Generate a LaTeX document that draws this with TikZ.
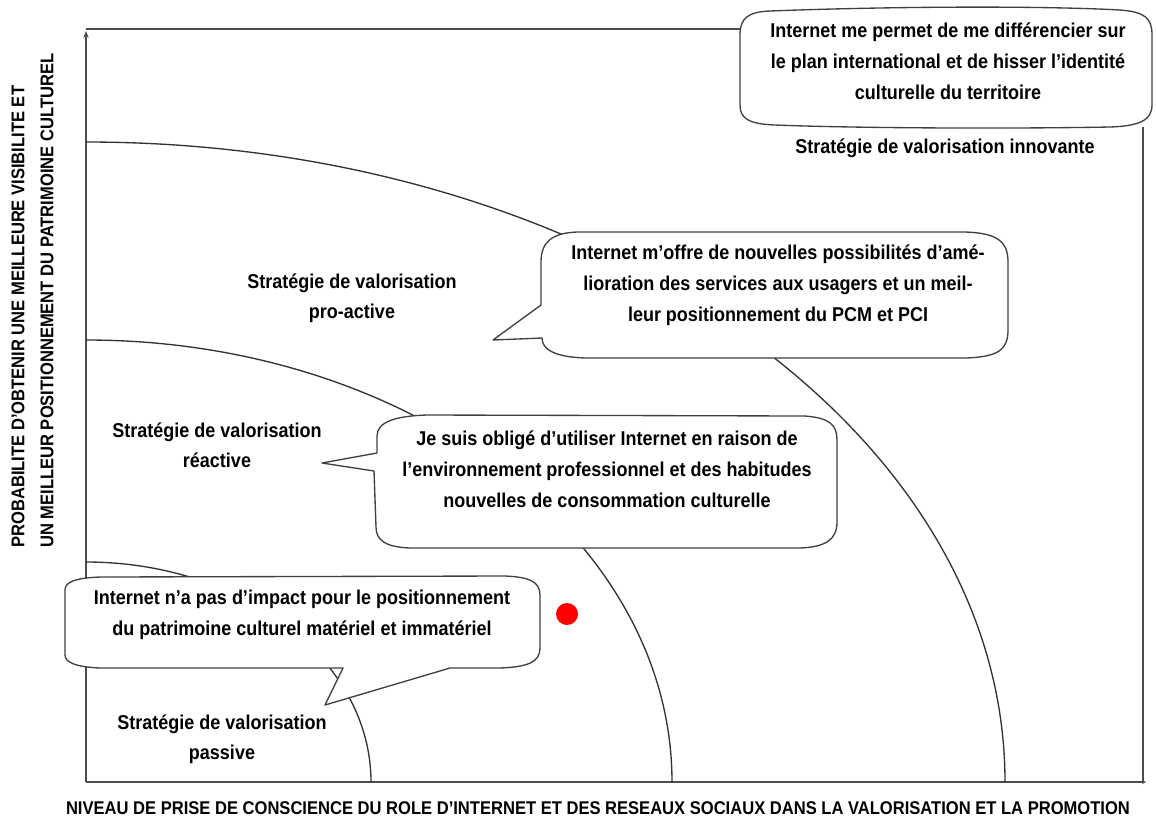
\documentclass[tikz,border=0pt]{standalone}
\usepackage{fontspec}
\setmainfont{Liberation Sans}[FakeStretch=0.9]
\usetikzlibrary{arrows.meta}

\begin{document}
\begin{tikzpicture}[x=0.75pt, y=-0.75pt,
  axis/.style={black!70, line width=1.5pt},
  zone/.style={black!80, line width=1pt},
  bubble/.style={draw=black!75, line width=1pt, fill=white, line join=round},
  lbl/.style={font=\bfseries\fontsize{15}{22.5}\selectfont, align=center, inner sep=0pt},
  say/.style={font=\bfseries\fontsize{15}{23.25}\selectfont, align=center, inner sep=0pt},
  axlbl/.style={font=\bfseries\fontsize{13.8}{21.75}\selectfont, align=left, inner sep=0pt}]
  \useasboundingbox (0,0) rectangle (1156,819);

  % Axes and frame
  \coordinate (O) at (86,782);
  \coordinate (ytop) at (86,31);
  \coordinate (xend) at (1146,782);
  \coordinate (tl) at (86,29);
  \coordinate (tr) at (741,29);
  \coordinate (rt) at (1143,127);
  \coordinate (rb) at (1143,782);
  \draw[axis, -{Stealth[length=5pt,width=4pt]}] (O) -- (ytop);
  \draw[axis, -{Stealth[length=3pt,width=3pt]}] (O) -- (xend);
  \draw[axis] (tl) -- (tr);
  \draw[axis] (rt) -- (rb);

  % Zones (quarter ellipses round the origin)
  \draw[zone] (86,562) arc[start angle=-90, end angle=0, x radius=285, y radius=220];
  \draw[zone] (86,340) arc[start angle=-90, end angle=0, x radius=586, y radius=442];
  \draw[zone] (86,142) arc[start angle=-90, end angle=0, x radius=919, y radius=640];

  % Callout: innovante
  \draw[bubble] (770,11) .. controls (900,6) and (1050,6) .. (1120,10)
    .. controls (1145,12) and (1152,18) .. (1152,35) -- (1152,105)
    .. controls (1152,120) and (1140,126) .. (1110,127)
    .. controls (1000,129) and (850,128) .. (775,125)
    .. controls (748,124) and (740,118) .. (740,105) -- (740,35)
    .. controls (740,18) and (748,12) .. (770,11) -- cycle;
  \node[say] (sayInnov) at (948,61) {Internet me permet de me différencier sur\\le plan international et de hisser l’identité\\culturelle du territoire};

  % Callout: pro-active
  \draw[bubble] (577,232) -- (965,232) .. controls (998,233) and (1008,242) .. (1008,262)
    -- (1008,330) .. controls (1008,350) and (998,357) .. (965,358) -- (585,358)
    .. controls (556,357) and (542,350) .. (542,338) -- (493,340) -- (541,305) -- (541,262)
    .. controls (541,242) and (552,233) .. (577,232) -- cycle;
  \node[say] (sayPro) at (778,285) {Internet m’offre de nouvelles possibilités d’amé-\\lioration des services aux usagers et un meil-\\leur positionnement du PCM et PCI};

  % Callout: reactive
  \draw[bubble] (427,415) -- (805,416) .. controls (830,418) and (837,425) .. (837,440)
    -- (837,522) .. controls (837,540) and (825,547) .. (800,548) -- (410,548)
    .. controls (385,547) and (376,540) .. (376,527) -- (374,471) -- (322,463) -- (377,453)
    -- (377,436) .. controls (377,422) and (395,416) .. (427,415) -- cycle;
  \node[say] (sayReac) at (607,469) {Je suis obligé d’utiliser Internet en raison de\\l’environnement professionnel et des habitudes\\nouvelles de consommation culturelle};

  % Callout: passive
  \draw[bubble] (100,577) -- (505,576) .. controls (530,577) and (540,582) .. (540,595)
    -- (540,648) .. controls (540,662) and (528,667) .. (500,668) -- (450,668) -- (325,705)
    -- (343,668) -- (100,668) .. controls (75,667) and (65,662) .. (65,655) -- (65,590)
    .. controls (65,582) and (75,578) .. (100,577) -- cycle;
  \node[say] (sayPass) at (302,615) {Internet n’a pas d’impact pour le positionnement\\du patrimoine culturel matériel et immatériel};

  % Position
  \fill[red] (567,614) circle[radius=8.25pt];

  % Strategy labels
  \node[lbl] (innov) at (945,148) {Stratégie de valorisation innovante};
  \node[lbl] (proact) at (352,298) {Stratégie de valorisation\\pro-active};
  \node[lbl] (react) at (217,445) {Stratégie de valorisation\\réactive};
  \node[lbl] (passv) at (222,739) {Stratégie de valorisation\\passive};

  % Axis titles
  \node[axlbl] (xtitle) at (598,808) {NIVEAU DE PRISE DE CONSCIENCE DU ROLE D'INTERNET ET DES RESEAUX SOCIAUX DANS LA VALORISATION ET LA PROMOTION};
  \node[axlbl, rotate=90, anchor=west] (ytitle) at (32.5,548) {PROBABILITE D'OBTENIR UNE MEILLEURE VISIBILITE ET\\UN MEILLEUR POSITIONNEMENT DU PATRIMOINE CULTUREL};
\end{tikzpicture}
\end{document}
